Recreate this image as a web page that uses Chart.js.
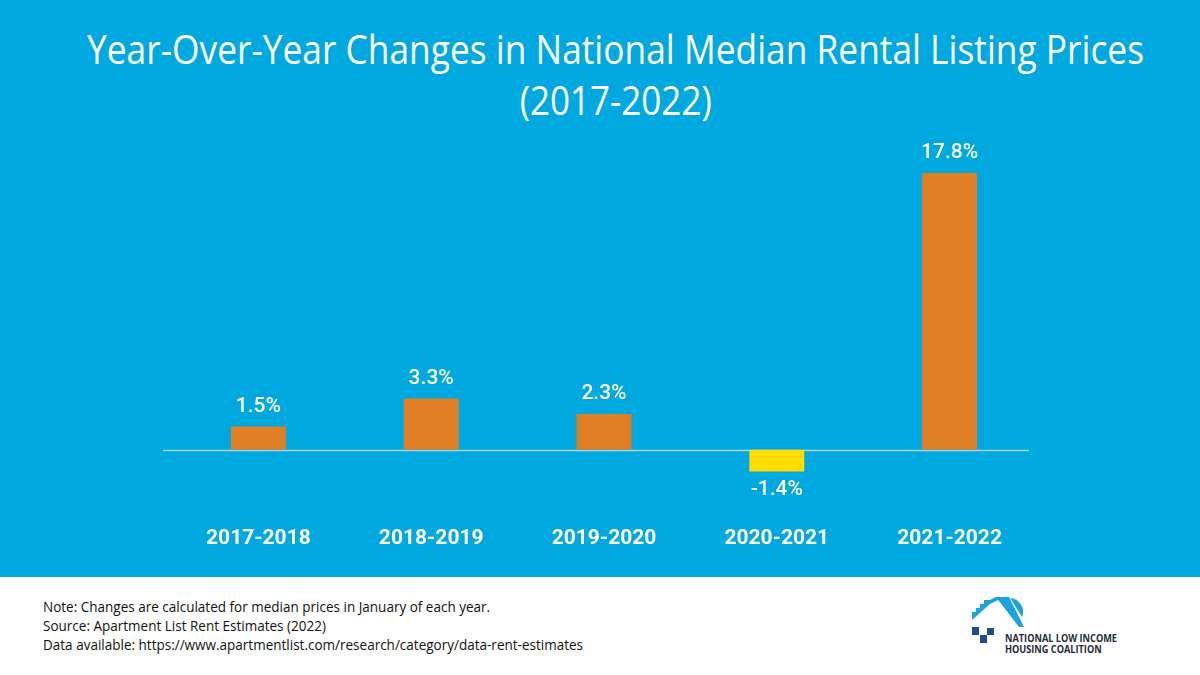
<!DOCTYPE html>
<html><head><meta charset="utf-8">
<script src="https://cdn.jsdelivr.net/npm/chart.js@4"></script>
<style>
html,body{margin:0;padding:0;width:1200px;height:675px;overflow:hidden;background:#fff;}
#top{position:absolute;left:0;top:0;width:1200px;height:577px;background:#00A8E0;}
#chartwrap{position:absolute;left:0;top:0;width:1200px;height:577px;}
.tline{position:absolute;left:0;width:1232px;text-align:center;color:#fff;font-family:'Open Sans';font-size:40px;line-height:40px;white-space:nowrap;}
.tline span{display:inline-block;transform-origin:50% 50%;}
.fline{position:absolute;left:43px;font-family:'Open Sans';font-size:14px;line-height:14px;color:#111;white-space:nowrap;transform-origin:0 50%;}
#logo{position:absolute;left:960px;top:590px;}
.ltext{position:absolute;left:1005px;font-family:'Open Sans';font-weight:700;font-size:11px;line-height:11px;color:#1f2a3c;white-space:nowrap;transform-origin:0 50%;}
</style></head>
<body>
<div id="top"></div>
<div class="tline" style="top:29px"><span id="t1">Year-Over-Year Changes in National Median Rental Listing Prices</span></div>
<div class="tline" style="top:80px"><span id="t2">(2017-2022)</span></div>
<div id="chartwrap"><canvas id="c" width="1200" height="577"></canvas></div>
<div class="fline" id="f1" style="top:600px">Note: Changes are calculated for median prices in January of each year.</div>
<div class="fline" id="f2" style="top:619px">Source: Apartment List Rent Estimates (2022)</div>
<div class="fline" id="f3" style="top:638px">Data available: https://www.apartmentlist.com/research/category/data-rent-estimates</div>
<svg id="logo" width="80" height="60" viewBox="960 590 80 60">
  <circle cx="1009" cy="612" r="14" fill="#1aa3de"/>
  <polygon points="986,606 1009,596 1030,630 972,630 972,618" fill="#fff"/>
  <polygon points="972,612 976,612 976,608 980,608 980,604 984,604 984,600 990,600 996,597 1004,597 990,604 972,620" fill="#1aa3de"/>
  <polygon points="996,597 1009,597 1024,627 1019,627" fill="#1aa3de"/>
  <rect x="972" y="627" width="7" height="8" fill="#1d4f8a"/>
  <rect x="980" y="635" width="7" height="8" fill="#1d4f8a"/>
  <rect x="987" y="628" width="7" height="7" fill="#1d4f8a"/>
</svg>
<div class="ltext" id="l1" style="top:632px">NATIONAL LOW INCOME</div>
<div class="ltext" id="l2" style="top:643px">HOUSING COALITION</div>
<script>
const categories = ['2017-2018','2018-2019','2019-2020','2020-2021','2021-2022'];
const values = [1.5, 3.3, 2.3, -1.4, 17.8];
const yMin = -4;
const yMax = 18;

function fitWidth(el, target){
  const w = el.getBoundingClientRect().width;
  el.style.transform = 'scaleX(' + (target / w) + ')';
}
fitWidth(document.getElementById('t1'), 1057);
fitWidth(document.getElementById('t2'), 192);
const fs = document.getElementById('f3').getBoundingClientRect().width;
['f1','f2','f3'].forEach(id=>{document.getElementById(id).style.transform='scaleX(' + (540/fs) + ')';});
const ls = document.getElementById('l1').getBoundingClientRect().width;
['l1','l2'].forEach(id=>{document.getElementById(id).style.transform='scaleX(' + (112/ls) + ')';});

const zeroLine = {
  id: 'zeroLine',
  beforeDatasetsDraw(chart){
    const ctx = chart.ctx;
    const y0 = Math.round(chart.scales.y.getPixelForValue(0)) + 0.5;
    const a = chart.chartArea;
    ctx.save();
    ctx.strokeStyle = '#a6d5ec';
    ctx.lineWidth = 1.3;
    ctx.beginPath();
    ctx.moveTo(a.left - 9, y0);
    ctx.lineTo(a.right - 7, y0);
    ctx.stroke();
    ctx.restore();
  }
};

const valueLabels = {
  id: 'valueLabels',
  afterDatasetsDraw(chart){
    const ctx = chart.ctx;
    const meta = chart.getDatasetMeta(0);
    ctx.save();
    ctx.font = '500 21px Roboto';
    ctx.fillStyle = '#ffffff';
    ctx.textAlign = 'center';
    ctx.textBaseline = 'middle';
    meta.data.forEach((bar, i) => {
      const v = values[i];
      const y = v >= 0 ? bar.y - 20 : bar.y + 18;
      ctx.fillText(v.toFixed(1) + '%', bar.x, y);
    });
    ctx.restore();
  }
};

new Chart(document.getElementById('c'), {
  type: 'bar',
  data: {
    labels: categories,
    datasets: [{
      data: values,
      backgroundColor: ctx => (ctx.raw < 0 ? '#FFDD00' : '#E07F26'),
      borderWidth: 0,
      barPercentage: 1,
      categoryPercentage: 0.318
    }]
  },
  options: {
    responsive: false,
    animation: false,
    events: [],
    layout: { padding: { left: 172, right: 164, top: 170, bottom: 0 } },
    plugins: { legend: { display: false }, tooltip: { enabled: false }, title: { display: false } },
    scales: {
      x: {
        grid: { display: false },
        border: { display: false },
        ticks: { color: '#ffffff', font: { family: 'Roboto', weight: '700', size: 21 }, padding: 6, maxRotation: 0 },
        afterFit: s => { s.height = 65; }
      },
      y: {
        display: true,
        min: yMin, max: yMax,
        grid: { display: false },
        border: { display: false },
        ticks: { display: false },
        afterFit: s => { s.width = 0; }
      }
    }
  },
  plugins: [zeroLine, valueLabels]
});
</script>
</body></html>
